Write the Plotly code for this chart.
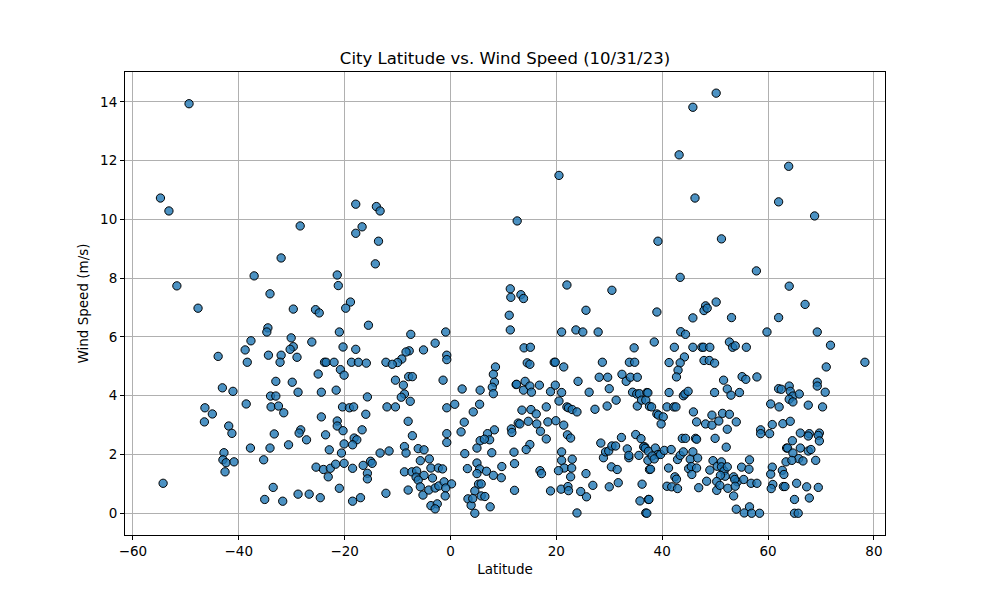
import plotly.graph_objects as go

# city latitude / wind speed readings
lat = [
    -49.4, -54.8, -53.2, -51.7, -47.7, -37.1, -37.7, -38.8, -38.4, -43.9, -43.1, -41.1, -38.6,
    -46.4, -45.0, -46.5, -41.9, -41.3, -37.8, -42.8, -43.0, -42.4, -40.9, -42.6, -54.3,
    -17.9, -14.0, -13.3, -16.7, -17.9, -13.6, -28.4, -14.2, -32.0, -21.4, -21.2, -34.1, -18.9,
    -19.8, -29.7, -25.5, -24.8, -15.5, -34.5, -34.7, -21.0, -30.1, -26.2, -20.3, -17.9, -29.7,
    -30.3, -34.4, -32.0, -29.0, -32.2, -23.8, -23.5, -22.0, -18.7, -17.4, -15.9, -12.2, -20.8,
    -20.1, -25.0, -33.0, -29.9, -21.6, -24.4, -28.8, -34.0, -33.0, -15.7, -33.9, -32.5, -31.5,
    -20.4, -19.1, -18.3, -12.0, -16.0, -24.4, -21.4, -21.4, -20.3, -16.7, -33.3, -28.3, -28.6,
    -27.2, -23.6, -30.6, -34.1, -22.9, -18.2, -17.7, -18.5, -20.1, -20.6, -13.3, -11.6, -35.3,
    -25.4, -24.0, -23.1, -22.7, -21.7, -20.1, -18.5, -16.5, -15.1, -14.8, -15.7, -15.7, -33.5,
    -21.0, -35.1, -31.7, -28.8, -26.7, -24.6, -18.5, -17.0, -12.2,
    12.6, 11.3, 11.4, 11.1, 11.3, -7.5, -0.9, -2.9, -5.1, -7.8, -8.4, -0.7, -0.7, -9.2, -10.0,
    -11.0, 8.5, 8.1, 8.3, 7.9, 8.1, -7.9, -7.2, -10.4, -1.4, -8.9, 2.2, 5.6, 12.4, -8.7, -9.3,
    -7.6, 0.8, 5.5, -0.7, -10.4, 4.3, -8.0, 2.6, 8.3, 11.5, 11.6, 12.8, -7.2, -0.7, -0.7, 2.0,
    7.0, 5.6, 7.4, 6.4, 5.0, 7.8, 12.0, 12.1, 2.7, -8.7, -8.4, -6.1, -5.0, -5.7, -4.0, -3.7,
    -2.3, -1.5, -8.7, -7.3, -6.4, -6.5, -5.0, -6.1, -3.4, -5.7, -5.2, -8.0, -4.1, -2.9, -2.2,
    -1.2, 0.2, -0.9, -1.0, -3.7, -2.5, -2.9, 3.2, 5.0, 5.5, 6.8, 8.1, 9.7, 9.6, 5.0, 5.3, 5.8,
    4.6, 3.3, 3.9, 4.2, 4.6, 5.8, 6.5, 7.5, 12.1,
    20.5, 22.0, 30.5, 13.3, 13.8, 25.6, 21.0, 23.7, 25.0, 27.9, 13.9, 15.1, 34.7, 19.6, 19.8,
    14.5, 15.0, 21.4, 28.7, 33.8, 34.8, 24.1, 28.1, 29.7, 32.4, 33.2, 34.0, 35.3, 12.5, 14.1,
    13.8, 15.0, 15.3, 16.8, 18.9, 19.8, 21.0, 26.2, 30.0, 34.4, 35.2, 35.7, 37.1, 20.5, 13.5,
    15.2, 16.2, 18.1, 22.0, 22.3, 23.0, 23.9, 27.3, 29.6, 31.3, 35.3, 36.1, 36.9, 37.6, 13.1,
    14.7, 16.3, 18.4, 19.9, 21.4, 17.0, 18.1, 22.1, 22.7, 15.0, 14.3, 21.0, 28.4, 28.9, 29.3,
    29.9, 30.5, 31.2, 32.3, 33.4, 33.7, 33.7, 35.0, 36.0, 36.7, 36.5, 35.6, 21.0, 23.0, 21.5,
    22.9, 20.4, 16.9, 17.2, 22.7, 25.6, 30.4, 31.5, 31.7, 30.0, 26.9, 24.6, 25.7, 18.9, 20.9,
    22.2, 22.3, 23.9, 36.2, 35.8, 36.9, 37.4, 37.6,
    50.2, 45.8, 43.2, 46.2, 62.0, 39.2, 51.2, 57.8, 43.4, 50.2, 48.2, 47.9, 48.5, 39.0, 45.8,
    53.1, 62.0, 59.8, 43.5, 44.4, 38.5, 42.3, 45.8, 47.5, 47.8, 49.0, 52.7, 53.3, 53.8, 55.9,
    44.2, 43.4, 41.3, 47.9, 48.9, 49.9, 43.0, 42.7, 51.6, 55.1, 55.8, 57.9, 37.3, 41.3, 44.0,
    44.3, 44.9, 49.9, 52.3, 53.0, 54.6, 62.0, 38.0, 40.9, 42.2, 42.6, 39.0, 39.3, 40.2, 39.8,
    45.9, 46.5, 48.2, 49.4, 49.4, 50.7, 51.4, 52.7, 54.0, 52.3, 60.5, 60.8, 58.6, 58.6, 60.3,
    43.8, 44.4, 46.3, 46.5, 50.0, 52.1, 36.8, 37.4, 37.3, 38.7, 39.2, 38.1, 37.8, 38.5, 39.7,
    40.4, 41.2, 41.7, 42.9, 43.4, 44.0, 45.3, 45.0, 45.5, 45.6, 45.8, 46.5, 46.7, 49.0, 49.6,
    50.4, 51.2, 51.2, 51.7, 51.9, 51.0, 52.3, 53.5, 54.2, 53.7, 55.0, 56.5, 55.4, 56.4, 56.8,
    57.9, 60.8, 60.5, 60.9, 60.6, 42.4, 42.7, 40.9, 41.8, 42.9, 46.9, 48.4, 50.3, 50.3, 50.9,
    52.4, 53.8, 53.5, 54.0, 55.5, 56.5, 56.9, 58.4, 37.5, 37.1,
    63.9, 68.8, 64.0, 67.0, 69.3, 71.8, 71.0, 78.3, 62.5, 64.0, 64.2, 64.7, 65.9, 69.3, 69.3,
    70.8, 62.1, 64.0, 64.7, 67.6, 70.3, 62.8, 64.2, 66.1, 64.6, 67.8, 67.6, 69.7, 69.5, 69.7,
    63.5, 63.7, 66.1, 67.6, 68.1, 64.7, 65.8, 66.6, 69.0, 63.4, 64.5, 62.7, 63.0, 62.9, 63.2,
    65.4, 67.3, 69.5, 65.0, 67.8, 65.0, 65.7,
]
wind = [
    13.94, 10.73, 10.29, 7.74, 6.98, 8.08, 5.87, 5.56, 5.14, 5.34, 4.27, 4.15, 3.72,
    3.59, 3.38, 3.11, 2.97, 2.72, 2.22, 2.06, 1.82, 1.72, 1.75, 1.41, 1.02,
    10.52, 10.44, 10.29, 9.75, 9.53, 9.26, 9.78, 8.49, 8.69, 8.11, 7.75, 7.47, 7.19,
    6.98, 6.95, 6.93, 6.82, 6.40, 6.31, 6.17, 6.17, 5.97, 5.83, 5.66, 5.58, 5.67,
    5.58, 5.38, 5.38, 5.31, 5.14, 5.14, 5.14, 5.14, 5.14, 5.14, 5.11, 5.14, 4.89,
    4.70, 4.74, 4.49, 4.46, 4.19, 4.12, 4.12, 3.99, 3.99, 3.96, 3.62, 3.65, 3.42,
    3.62, 3.59, 3.62, 3.62, 3.37, 3.28, 3.14, 2.97, 2.81, 2.84, 2.70, 2.84, 2.73,
    2.50, 2.67, 2.33, 2.22, 2.16, 2.56, 2.50, 2.33, 2.36, 2.05, 2.05, 2.12, 1.82,
    1.57, 1.49, 1.24, 1.53, 1.67, 1.70, 1.53, 1.63, 1.77, 1.70, 1.36, 1.17, 0.88,
    0.85, 0.47, 0.41, 0.65, 0.65, 0.53, 0.41, 0.53, 0.68,
    9.95, 7.64, 7.35, 6.74, 6.24, 6.09, 6.17, 5.79, 5.56, 5.53, 5.49, 5.38, 5.23, 5.25, 5.13,
    5.07, 4.98, 4.73, 4.46, 4.29, 4.07, 4.65, 4.65, 4.53, 4.53, 4.36, 4.23, 4.19, 4.38, 4.06, 3.95,
    3.81, 3.71, 3.71, 3.59, 3.62, 3.45, 3.13, 3.10, 2.84, 2.87, 2.75, 3.07, 2.64, 2.71, 2.41, 2.77,
    2.71, 2.47, 2.50, 2.52, 2.22, 2.06, 2.08, 1.69, 2.03, 2.27, 2.05, 2.20, 2.16, 1.79, 1.85, 1.54,
    1.54, 1.51, 1.41, 1.41, 1.44, 1.23, 1.29, 1.13, 1.20, 0.90, 0.62, 0.79, 0.79, 0.86, 0.93,
    1.07, 1.00, 0.86, 0.59, 0.26, 0.32, 0.15, 1.52, 1.71, 1.51, 1.43, 1.29, 1.59, 1.21, 1.35, 0.99, 1.00,
    0.76, 0.49, 0.27, 0.50, 0.00, 0.59, 0.57, 0.22, 0.78,
    11.50, 7.77, 7.59, 7.44, 7.31, 6.91, 6.17, 6.24, 6.17, 6.17, 5.63, 5.65, 5.63, 5.14, 5.14,
    5.12, 5.07, 4.98, 5.14, 5.14, 5.14, 4.49, 4.63, 4.63, 4.73, 4.49, 4.63, 4.63, 4.39, 4.49,
    4.19, 4.33, 4.12, 4.36, 4.14, 4.36, 4.11, 4.12, 4.24, 4.12, 4.06, 4.07, 4.11, 3.82, 3.51,
    3.53, 3.38, 3.62, 3.62, 3.59, 3.53, 3.45, 3.54, 3.65, 3.85, 3.65, 3.85, 3.85, 3.64, 3.04,
    3.13, 3.04, 3.11, 3.15, 3.00, 2.79, 2.53, 2.67, 2.56, 2.34, 2.17, 2.09, 2.39, 1.89, 2.09,
    2.12, 2.29, 2.29, 2.58, 2.19, 1.89, 1.97, 2.68, 2.54, 2.26, 2.26, 1.97, 1.80, 1.84, 1.54,
    1.54, 1.45, 1.45, 1.35, 1.24, 1.35, 1.58, 1.49, 1.04, 0.90, 0.95, 0.74, 0.56, 0.76, 0.82,
    0.91, 0.77, 0.01, 0.99, 0.42, 0.01, 0.47, 1.49,
    14.30, 13.82, 12.20, 10.73, 10.60, 9.26, 9.34, 8.25, 8.03, 7.19, 7.06, 6.90, 6.98, 6.85, 6.65,
    6.66, 6.66, 6.17, 6.18, 6.09, 5.83, 5.65, 5.65, 5.65, 5.65, 5.65, 5.83, 5.65, 5.70, 5.65,
    5.32, 5.12, 5.13, 5.20, 5.20, 5.11, 4.87, 4.64, 4.53, 4.65, 4.56, 4.64, 4.10, 4.11, 4.00,
    4.06, 4.15, 4.11, 4.23, 4.02, 4.11, 4.24, 3.62, 3.62, 3.62, 3.62, 3.38, 3.34, 3.28, 3.04,
    3.45, 3.11, 3.04, 3.34, 3.00, 3.14, 3.40, 3.37, 3.11, 2.86, 3.72, 3.02, 2.84, 2.71, 2.71,
    2.55, 2.55, 2.55, 2.52, 2.55, 2.25, 2.21, 2.11, 1.80, 2.22, 2.00, 1.95, 1.50, 1.85, 2.00,
    2.14, 1.54, 2.17, 1.83, 1.97, 2.09, 1.84, 1.52, 1.59, 1.32, 2.09, 1.54, 1.88, 1.47, 1.79,
    1.60, 1.75, 1.58, 1.44, 1.26, 1.29, 1.58, 1.24, 1.07, 1.15, 1.57, 1.82, 1.15, 1.50, 1.02,
    1.02, 1.57, 1.33, 0.98, 0.84, 1.24, 1.16, 0.92, 0.90, 0.84, 0.87, 1.09, 1.08, 0.78, 0.95,
    0.85, 0.92, 0.59, 0.14, 0.01, 0.22, 0.00, 0.00, 0.47, 0.00,
    11.81, 10.12, 7.73, 7.11, 6.17, 5.72, 4.98, 5.14, 4.22, 4.33, 4.15, 3.99, 4.06, 4.46, 4.33,
    4.12, 3.62, 3.88, 3.79, 3.68, 3.62, 3.05, 3.13, 2.73, 2.47, 2.71, 2.63, 2.73, 2.65, 2.46,
    2.22, 2.22, 2.22, 2.12, 2.17, 2.05, 1.86, 1.78, 1.80, 1.75, 1.80, 1.46, 1.32, 0.91, 0.91,
    1.02, 0.90, 0.88, 0.47, 0.52, 0.00, 0.00,
]

x_ticks = [-60, -40, -20, 0, 20, 40, 60, 80]
y_ticks = [0, 2, 4, 6, 8, 10, 12, 14]

fig = go.Figure()
fig.add_trace(go.Scatter(
    x=lat, y=wind, mode="markers",
    marker=dict(size=8.3, color="rgba(31,119,180,0.8)", line=dict(color="black", width=1)),
    showlegend=False,
))

axis_style = dict(
    showgrid=True, gridcolor="#b0b0b0", gridwidth=1,
    showline=True, linecolor="black", linewidth=1, mirror=True,
    ticks="outside", ticklen=4, tickcolor="black",
    zeroline=False, tickfont=dict(size=13.5, color="black"),
    automargin=False,
)

# page body adds an 8px offset, so the figure is 992x592 with margins shifted to match
fig.update_layout(
    width=992, height=592,
    paper_bgcolor="white", plot_bgcolor="white",
    font=dict(family="DejaVu Sans", color="black"),
    margin=dict(l=117, r=115, t=64, b=65),
    title=dict(text="City Latitude vs. Wind Speed (10/31/23)", x=0.501, xref="container",
               y=0.9155, yref="container", yanchor="middle", font=dict(size=16.5),
               automargin=False),
    xaxis=dict(range=[-61.5, 82.1], tickvals=x_ticks,
               title=dict(text="Latitude", font=dict(size=13.5), standoff=6), **axis_style),
    yaxis=dict(range=[-0.74, 15.02], tickvals=y_ticks,
               title=dict(text="Wind Speed (m/s)", font=dict(size=13.5), standoff=8), **axis_style),
)

fig.write_html("out.html")
